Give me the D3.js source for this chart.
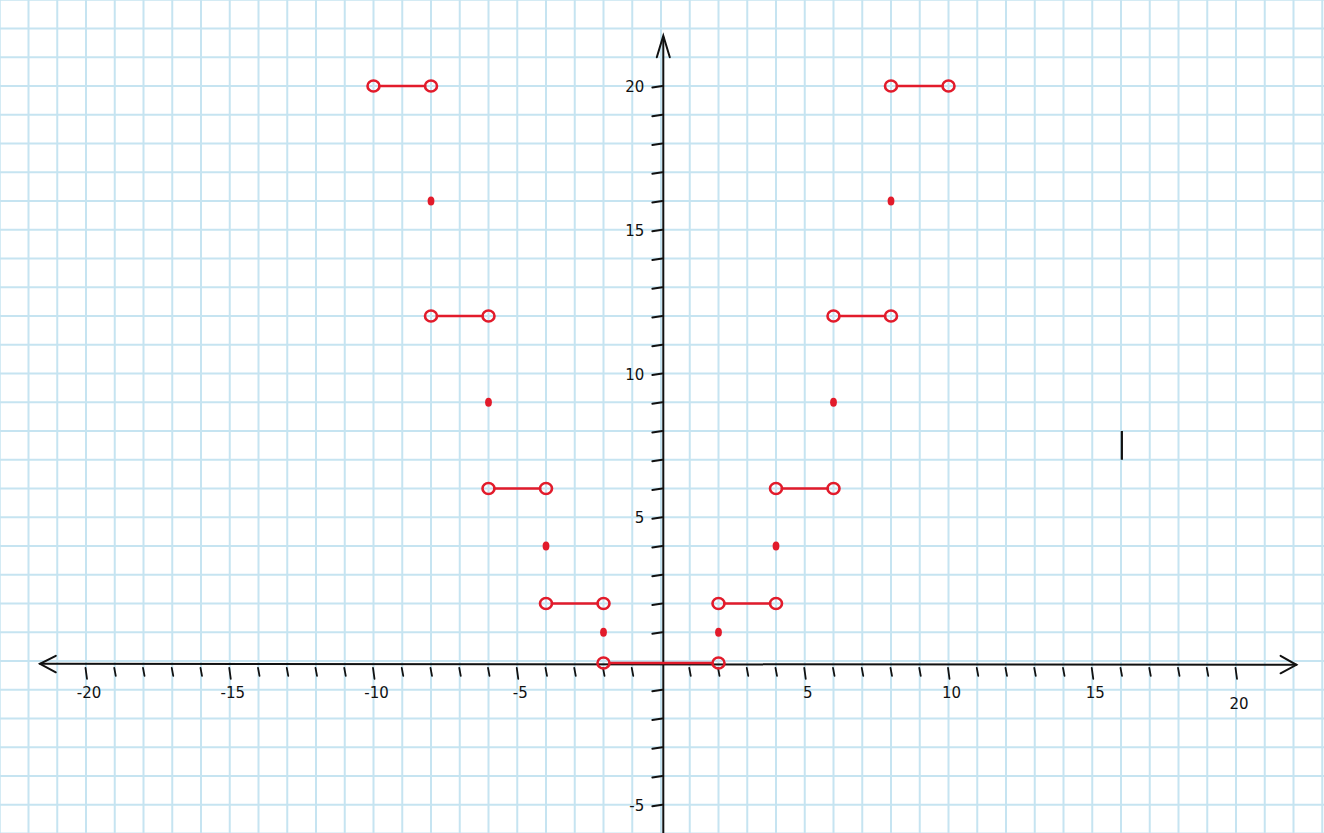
<!DOCTYPE html>
<html>
<head>
<meta charset="utf-8">
<script src="https://cdn.jsdelivr.net/npm/d3@7"></script>
<style>
  html, body { margin: 0; padding: 0; background: #fff; }
  svg { display: block; }
</style>
</head>
<body>
<svg id="chart" width="1324" height="833"></svg>
<script>
// ---- data ----
const levels = [0, 2, 6, 12, 20];
// horizontal pieces: [xStart, xEnd, y] with open ends
const segments = [
  [-2, 2, 0],
  [-4, -2, 2], [2, 4, 2],
  [-6, -4, 6], [4, 6, 6],
  [-8, -6, 12], [6, 8, 12],
  [-10, -8, 20], [8, 10, 20]
];
// closed (filled) points
const dotX = [-2, 2, -4, 4, -6, 6, -8, 8];
const dotY = [1, 1, 4, 4, 9, 9, 16, 16];
const xTickValues = d3.range(-20, 21).filter(v => v !== 0);
const yTickValues = d3.range(-5, 21).filter(v => v !== 0);
const xTickLabels = ["-20", "-15", "-10", "-5", "5", "10", "15", "20"];
const xLabelValues = [-20, -15, -10, -5, 5, 10, 15, 20];
const yTickLabels = ["20", "15", "10", "5", "-5"];
const yLabelValues = [20, 15, 10, 5, -5];
const strayMark = [[16.03, 8], [16.03, 7]];

// ---- scales ----
const unit = 28.75;
const ox = 661, oy = 661;
const x = d3.scaleLinear().domain([0, 1]).range([ox, ox + unit]);
const y = d3.scaleLinear().domain([0, 1]).range([oy, oy - unit]);

const svg = d3.select("#chart");
const W = 1324, H = 833;

// ---- grid paper ----
const gridColor = "#c6e4f1";
const gx = d3.range(-23, 24);
const gy = d3.range(-6, 24);
svg.append("g").selectAll("line").data(gx).join("line")
  .attr("x1", d => x(d)).attr("x2", d => x(d))
  .attr("y1", 0).attr("y2", H)
  .attr("stroke", gridColor).attr("stroke-width", 2);
svg.append("g").selectAll("line").data(gy).join("line")
  .attr("y1", d => y(d)).attr("y2", d => y(d))
  .attr("x1", 0).attr("x2", W)
  .attr("stroke", gridColor).attr("stroke-width", 2);

// ---- axes ----
const axX = x(0) + 2.3;   // hand-drawn y-axis slightly off the grid line
const axY = y(0) + 2.8;   // hand-drawn x-axis
const axis = svg.append("g").attr("stroke", "#111").attr("stroke-width", 2)
  .attr("fill", "none").attr("stroke-linecap", "round");

// y axis
axis.append("line").attr("x1", axX).attr("x2", axX).attr("y1", y(21.7)).attr("y2", H);
axis.append("path").attr("d",
  `M${axX - 6.5},${y(21)} L${axX},${y(21.75)} L${axX + 6.5},${y(21)}`);
// x axis
axis.append("line").attr("x1", x(-21.6)).attr("x2", x(22.1)).attr("y1", axY).attr("y2", axY + 1);
axis.append("path").attr("d",
  `M${x(-21.05)},${axY - 8} L${x(-21.6)},${axY} L${x(-21.05)},${axY + 8.5}`);
axis.append("path").attr("d",
  `M${x(21.55)},${axY - 8} L${x(22.1)},${axY + 1} L${x(21.55)},${axY + 9.5}`);

// x ticks (below axis, slightly slanted like hand strokes)
axis.append("g").selectAll("line").data(xTickValues).join("line")
  .attr("x1", d => x(d) - 0.5).attr("x2", d => x(d) + 1)
  .attr("y1", axY + 4).attr("y2", d => axY + (d % 5 === 0 ? 15 : 12))
  .attr("stroke-width", 1.8);

// y ticks (left of axis)
axis.append("g").selectAll("line").data(yTickValues).join("line")
  .attr("x1", axX - 11).attr("x2", axX - 1)
  .attr("y1", d => y(d) + 1.5).attr("y2", d => y(d))
  .attr("stroke-width", 1.8);

// tick labels
const labelStyle = sel => sel
  .attr("font-family", "'DejaVu Sans', sans-serif")
  .attr("font-size", 15).attr("fill", "#111");
svg.append("g").selectAll("text").data(xLabelValues).join("text")
  .call(labelStyle)
  .attr("x", d => x(d) + 3).attr("y", d => axY + (d === 20 ? 45 : 34))
  .attr("text-anchor", "middle")
  .text((d, i) => xTickLabels[i]);
svg.append("g").selectAll("text").data(yLabelValues).join("text")
  .call(labelStyle)
  .attr("x", axX - 19).attr("y", d => y(d) + 6)
  .attr("text-anchor", "end")
  .text((d, i) => yTickLabels[i]);

// stray pen mark
svg.append("line")
  .attr("x1", x(strayMark[0][0])).attr("y1", y(strayMark[0][1]))
  .attr("x2", x(strayMark[1][0])).attr("y2", y(strayMark[1][1]))
  .attr("stroke", "#111").attr("stroke-width", 2.2);

// ---- function pieces ----
const red = "#e21b2b";
const r = 6;
const g = svg.append("g");
g.selectAll("line.seg").data(segments).join("line")
  .attr("class", "seg")
  .attr("x1", d => x(d[0]) + r).attr("x2", d => x(d[1]) - r)
  .attr("y1", d => y(d[2]) + (d[2] === 0 ? 2 : 0)).attr("y2", d => y(d[2]) + (d[2] === 0 ? 2 : 0))
  .attr("stroke", red).attr("stroke-width", 2.6).attr("stroke-linecap", "round");

const ends = segments.flatMap(s => [[s[0], s[2]], [s[1], s[2]]]);
g.selectAll("ellipse.open").data(ends).join("ellipse")
  .attr("class", "open")
  .attr("cx", d => x(d[0])).attr("cy", d => y(d[1]) + (d[1] === 0 ? 2 : 0))
  .attr("rx", r).attr("ry", r - 0.5)
  .attr("fill", "none").attr("stroke", red).attr("stroke-width", 2.6);

g.selectAll("ellipse.dot").data(dotX).join("ellipse")
  .attr("class", "dot")
  .attr("cx", d => x(d)).attr("cy", (d, i) => y(dotY[i]))
  .attr("rx", 3.4).attr("ry", 4.5)
  .attr("fill", red);
</script>
</body>
</html>
